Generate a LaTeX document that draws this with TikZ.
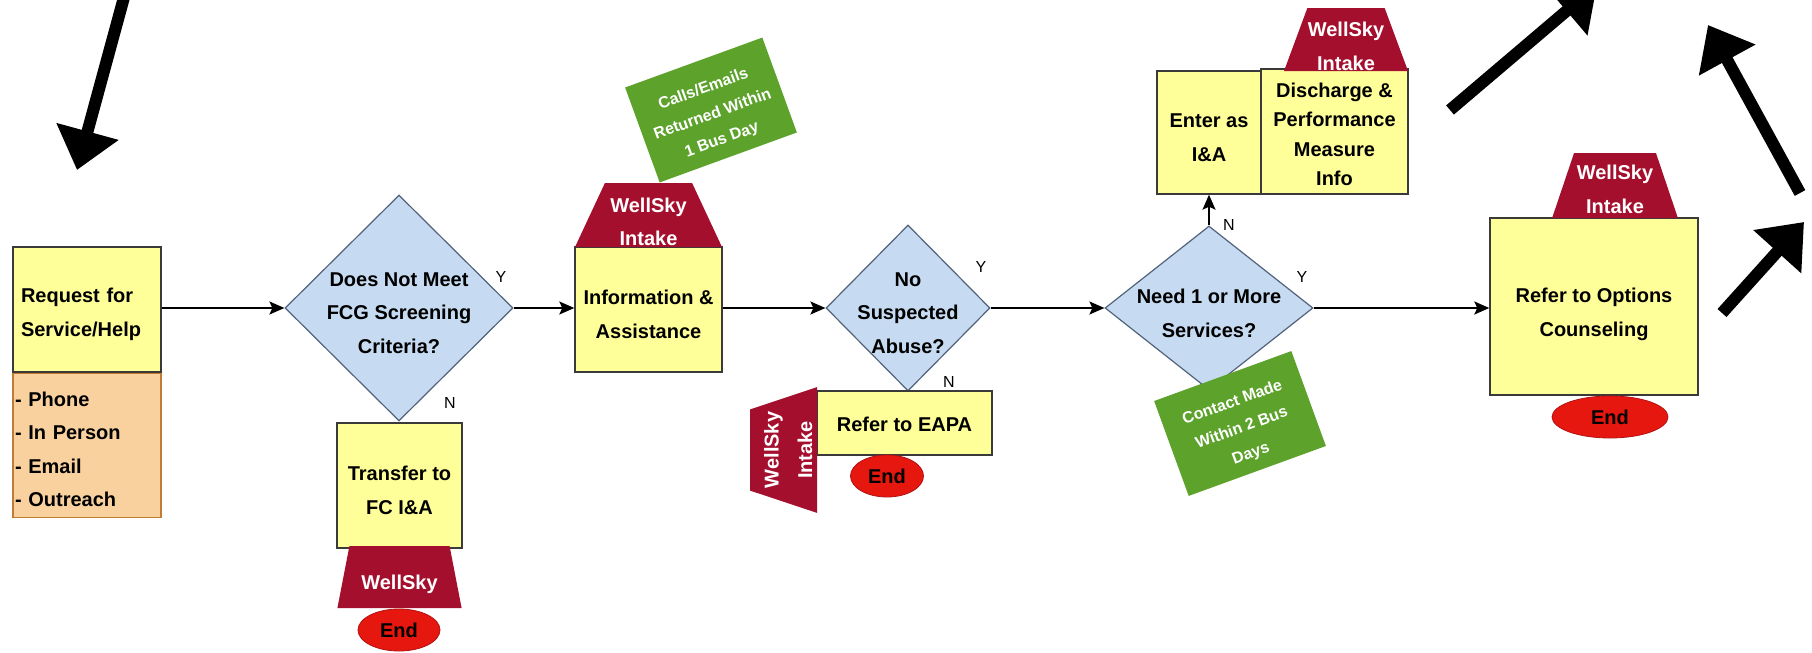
\documentclass[tikz,border=0pt]{standalone}
\usepackage{fontspec}
\setmainfont{Liberation Sans}
\usetikzlibrary{shapes.geometric,arrows.meta}
\definecolor{cYel}{HTML}{FFFF99}
\definecolor{cPeach}{HTML}{F8D19F}
\definecolor{cPeachLine}{HTML}{C27B35}
\definecolor{cBlue}{HTML}{C6DBF1}
\definecolor{cBlueLine}{HTML}{52627A}
\definecolor{cCrim}{HTML}{A50F2E}
\definecolor{cGreen}{HTML}{5CA22B}
\definecolor{cRed}{HTML}{E6170F}
\definecolor{cRedLine}{HTML}{B31212}
\definecolor{cLine}{HTML}{3A3A3A}
\newcommand{\tlift}[1]{\rule{0pt}{#1}}
\begin{document}
\begin{tikzpicture}[x=1pt,y=1pt,
  txt/.style={font=\fontsize{20}{33.5}\selectfont\bfseries, inner sep=0pt, align=center},
  ybox/.style={txt, draw=cLine, fill=cYel, line width=1.4pt},
  dia/.style={diamond, draw=cBlueLine, fill=cBlue, line width=1.2pt, inner sep=0pt},
  crim/.style={trapezium, trapezium stretches=true, fill=cCrim, text=white, txt},
  note/.style={rectangle, fill=cGreen, text=white, font=\fontsize{16}{27}\selectfont\bfseries, align=center, inner sep=0pt, rotate=20, minimum width=146pt, minimum height=101pt},
  endnode/.style={ellipse, fill=cRed, draw=cRedLine, line width=0.8pt, txt},
  yn/.style={font=\fontsize{16}{18}\selectfont, inner sep=0pt},
  flow/.style={line width=1.8pt, -{Stealth[length=15pt,width=13pt,inset=3pt]}},
  bigarrow/.style={line width=12pt, -{Triangle[length=40pt,width=62pt]}},
]
\useasboundingbox (0,0) rectangle (1812,-653);
\clip (0,0) rectangle (1812,-653);
\fill[white] (0,0) rectangle (1812,-653);

% request
\node[ybox, minimum width=148pt, minimum height=125pt, text width=132pt, align=left] (req) at (87,-309.5) {\tlift{24.5pt}Request for\\Service/Help};
\node[txt, draw=cPeachLine, fill=cPeach, line width=1.2pt, minimum width=148pt, minimum height=144pt, text width=144pt, align=left, anchor=north] (chan) at (req.south) {\tlift{23pt}- Phone\\- In Person\\- Email\\- Outreach};

% diamonds
\node[dia, minimum width=228pt, minimum height=226pt] (d1) at (399,-308) {};
\node[txt] (d1t) at (399,-313) {Does Not Meet\\FCG Screening\\Criteria?};
\node[dia, minimum width=164pt, minimum height=166pt] (d2) at (908,-308) {};
\node[txt] (d2t) at (908,-313) {No\\Suspected\\Abuse?};

% boxes
\node[ybox, minimum width=125pt, minimum height=125pt] (xfer) at (399.5,-485.5) {\tlift{24.5pt}Transfer to\\FC I\&A};
\node[ybox, minimum width=147pt, minimum height=125pt] (info) at (648.5,-309.5) {\tlift{24pt}Information \&\\Assistance};
\node[ybox, minimum width=175pt, minimum height=64pt] (eapa) at (904.5,-423) {\tlift{18pt}Refer to EAPA};
\node[ybox, minimum width=147pt, minimum height=125pt, font=\fontsize{20}{29.5}\selectfont\bfseries] (disch) at (1334.5,-131.5) {\tlift{20.5pt}Discharge \&\\Performance\\Measure\\Info};
\node[ybox, minimum width=104pt, minimum height=123pt] (enter) at (1209,-132.5) {\tlift{24pt}Enter as\\I\&A};
\node[ybox, minimum width=208pt, minimum height=177pt] (opts) at (1594,-306.5) {\tlift{30.5pt}Refer to Options\\Counseling};

% diamond 3
\node[dia, minimum width=208pt, minimum height=164pt] (d3) at (1209,-308) {};
\node[txt] (d3t) at (1209,-313.5) {Need 1 or More\\Services?};

% WellSky badges
\node[crim, minimum width=125pt, minimum height=62pt, trapezium left angle=75, trapezium right angle=75] (ws1) at (399.5,-577) {\tlift{30pt}WellSky};
\node[crim, minimum width=147pt, minimum height=64pt, trapezium left angle=67, trapezium right angle=67] (ws2) at (648.5,-215) {\tlift{28pt}WellSky\\Intake};
\node[crim, minimum width=126pt, minimum height=67pt, trapezium left angle=70, trapezium right angle=70, rotate=90] (ws3) at (783.5,-450) {\tlift{24pt}WellSky\\Intake};
\node[crim, minimum width=124pt, minimum height=63pt, trapezium left angle=69.5, trapezium right angle=69.5] (ws4) at (1346,-39.5) {\tlift{28pt}WellSky\\Intake};
\node[crim, minimum width=126pt, minimum height=65pt, trapezium left angle=70, trapezium right angle=70] (ws5) at (1615,-185.5) {\tlift{22.5pt}WellSky\\Intake};

% notes
\node[note] (note1) at (711,-110) {\tlift{22pt}Calls/Emails\\Returned Within\\1 Bus Day};
\node[note] (note2) at (1240,-423.5) {\tlift{22pt}Contact Made\\Within 2 Bus\\Days};

% ends
\node[endnode, minimum width=82pt, minimum height=42pt] (e1) at (399,-630) {End};
\node[endnode, minimum width=73pt, minimum height=42pt] (e2) at (887,-476) {End};
\node[endnode, minimum width=116pt, minimum height=42pt] (e3) at (1610,-417) {End};

% Y / N labels
\node[yn] (y1) at (501,-277) {Y};
\node[yn] (n1) at (450,-403) {N};
\node[yn] (y2) at (981,-267) {Y};
\node[yn] (n2) at (949,-382) {N};
\node[yn] (y3) at (1302,-277) {Y};
\node[yn] (n3) at (1229,-225) {N};

% connectors
\draw[flow] (d1.west -| req.east) -- (d1.west);
\draw[flow] (d1.east) -- (info.west |- d1.east);
\draw[flow] (info.east |- d2.west) -- (d2.west);
\draw[flow] (d2.east) -- (d3.west);
\draw[flow] (d3.east) -- (opts.west |- d3.east);
\draw[flow] (d3.north) -- (enter.south);

% big arrows
\coordinate (aDt) at (126,10);
\coordinate (aDh) at (77,-170);
\coordinate (aAt) at (1450,-110);
\coordinate (aAh) at (1597,15);
\coordinate (aBt) at (1800,-193);
\coordinate (aBh) at (1708,-25);
\coordinate (aCt) at (1722,-313);
\coordinate (aCh) at (1804,-222);
\draw[bigarrow] (aDt) -- (aDh);
\draw[bigarrow] (aAt) -- (aAh);
\draw[bigarrow] (aBt) -- (aBh);
\draw[bigarrow] (aCt) -- (aCh);
\end{tikzpicture}
\end{document}
